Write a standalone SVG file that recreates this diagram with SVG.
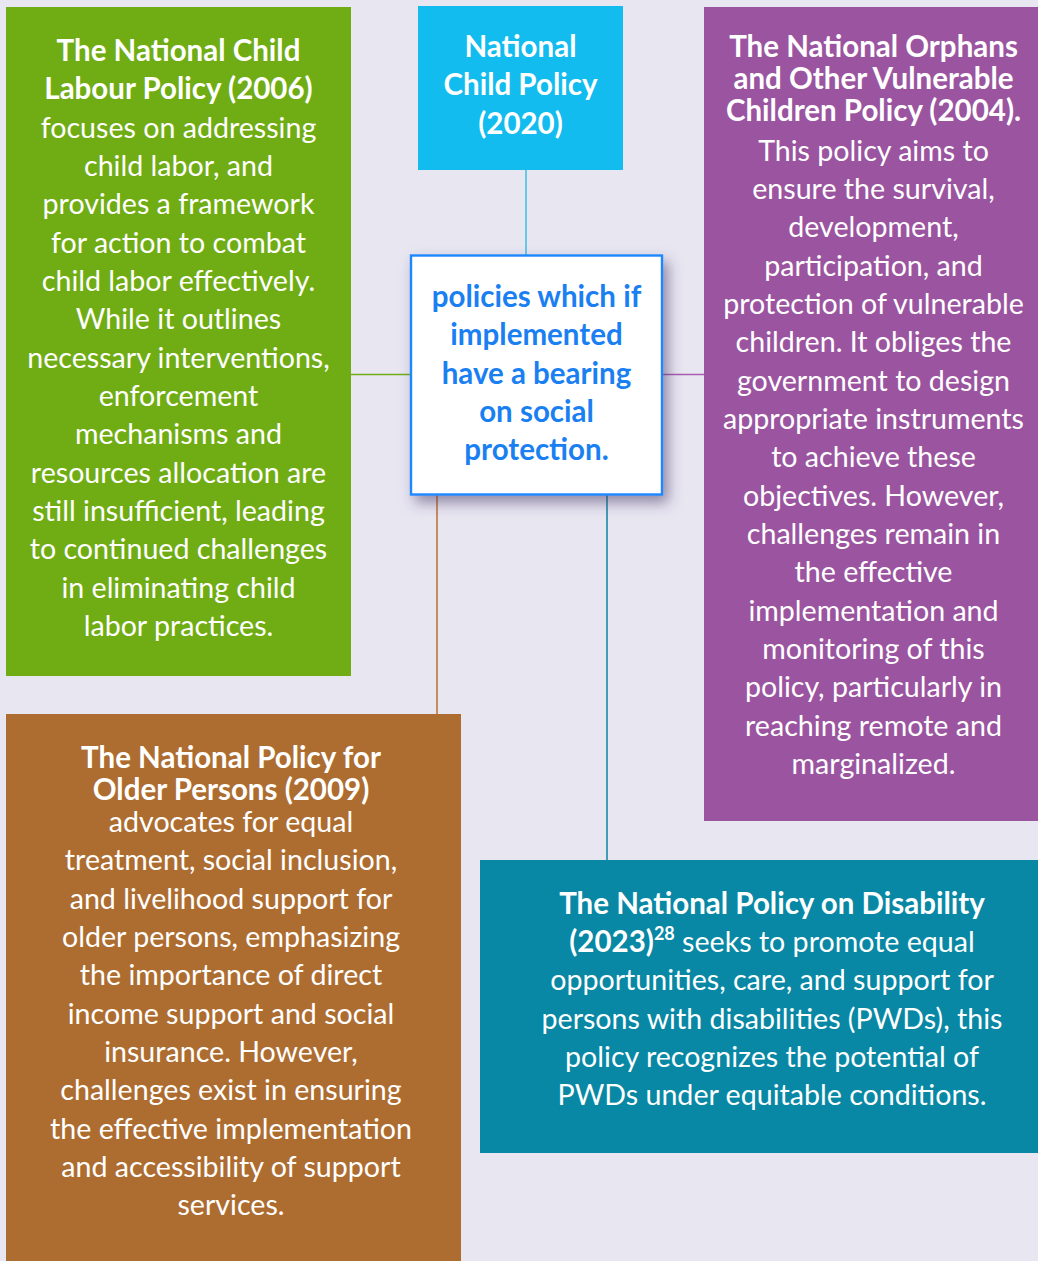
<svg xmlns="http://www.w3.org/2000/svg" width="1038" height="1261" viewBox="0 0 1038 1261">
<defs>
<filter id="shadow" x="-20%" y="-20%" width="150%" height="150%">
<feDropShadow dx="5" dy="7" stdDeviation="7" flood-color="#4a3a66" flood-opacity="0.55"/>
</filter>
<style>
text{font-family:Lato,"Open Sans","Liberation Sans",sans-serif;font-size:28.6px;fill:#ffffff;text-anchor:middle}
.b{font-weight:bold;font-size:29.5px}
.c{fill:#1a80f2;font-weight:bold;font-size:29.5px}
.conn line{stroke-width:1.6;fill:none}
</style>
</defs>
<rect x="0" y="0" width="1038" height="1261" fill="#e8e6f1"/>
<g id="connectors" class="conn">
<line x1="526" y1="170" x2="526" y2="255" stroke="#45c2e6"/>
<line x1="351" y1="374.5" x2="411" y2="374.5" stroke="#70ad14"/>
<line x1="662" y1="374.5" x2="704" y2="374.5" stroke="#a85cb0"/>
<line x1="437" y1="494" x2="437" y2="714" stroke="#bd7638"/>
<line x1="607" y1="494" x2="607" y2="860" stroke="#1a88a6"/>
</g>
<g id="node-child-labour">
<rect x="6" y="7" width="345" height="669" fill="#70ad14"/>
<text x="178.5" y="61" class="b">The National Child</text>
<text x="178.5" y="99.3" class="b">Labour Policy (2006)</text>
<text x="178.5" y="137.7">focuses on addressing</text>
<text x="178.5" y="176">child labor, and</text>
<text x="178.5" y="214.3">provides a framework</text>
<text x="178.5" y="252.7">for action to combat</text>
<text x="178.5" y="291">child labor effectively.</text>
<text x="178.5" y="329.3">While it outlines</text>
<text x="178.5" y="367.7">necessary interventions,</text>
<text x="178.5" y="406">enforcement</text>
<text x="178.5" y="444.3">mechanisms and</text>
<text x="178.5" y="482.7">resources allocation are</text>
<text x="178.5" y="521">still insufficient, leading</text>
<text x="178.5" y="559.3">to continued challenges</text>
<text x="178.5" y="597.7">in eliminating child</text>
<text x="178.5" y="636">labor practices.</text>
</g>
<g id="node-child-policy">
<rect x="418" y="6" width="205" height="164" fill="#12bcef"/>
<text x="520.5" y="57" class="b">National</text>
<text x="520.5" y="95.3" class="b">Child Policy</text>
<text x="520.5" y="133.7" class="b">(2020)</text>
</g>
<g id="node-orphans">
<rect x="704" y="7" width="334" height="814" fill="#9b55a0"/>
<text x="873.5" y="56.5" class="b">The National Orphans</text>
<text x="873.5" y="88.5" class="b">and Other Vulnerable</text>
<text x="873.5" y="120.5" class="b">Children Policy (2004).</text>
<text x="873.5" y="160.7">This policy aims to</text>
<text x="873.5" y="199">ensure the survival,</text>
<text x="873.5" y="237.3">development,</text>
<text x="873.5" y="275.7">participation, and</text>
<text x="873.5" y="314">protection of vulnerable</text>
<text x="873.5" y="352.3">children. It obliges the</text>
<text x="873.5" y="390.7">government to design</text>
<text x="873.5" y="429">appropriate instruments</text>
<text x="873.5" y="467.3">to achieve these</text>
<text x="873.5" y="505.7">objectives. However,</text>
<text x="873.5" y="544">challenges remain in</text>
<text x="873.5" y="582.3">the effective</text>
<text x="873.5" y="620.7">implementation and</text>
<text x="873.5" y="659">monitoring of this</text>
<text x="873.5" y="697.3">policy, particularly in</text>
<text x="873.5" y="735.7">reaching remote and</text>
<text x="873.5" y="774">marginalized.</text>
</g>
<g id="node-center">
<rect x="411" y="255.5" width="251" height="239" fill="#ffffff" stroke="#1e88ff" stroke-width="2.4" filter="url(#shadow)"/>
<text x="536.5" y="307" class="c">policies which if</text>
<text x="536.5" y="345.3" class="c">implemented</text>
<text x="536.5" y="383.7" class="c">have a bearing</text>
<text x="536.5" y="422" class="c">on social</text>
<text x="536.5" y="460.3" class="c">protection.</text>
</g>
<g id="node-older-persons">
<rect x="6" y="714" width="455" height="547" fill="#ae6d30"/>
<text x="231" y="768" class="b">The National Policy for</text>
<text x="231" y="800" class="b">Older Persons (2009)</text>
<text x="231" y="832">advocates for equal</text>
<text x="231" y="870.3">treatment, social inclusion,</text>
<text x="231" y="908.7">and livelihood support for</text>
<text x="231" y="947">older persons, emphasizing</text>
<text x="231" y="985.3">the importance of direct</text>
<text x="231" y="1023.7">income support and social</text>
<text x="231" y="1062">insurance. However,</text>
<text x="231" y="1100.3">challenges exist in ensuring</text>
<text x="231" y="1138.7">the effective implementation</text>
<text x="231" y="1177">and accessibility of support</text>
<text x="231" y="1215.3">services.</text>
</g>
<g id="node-disability">
<rect x="480" y="860" width="558" height="293" fill="#0888a4"/>
<text x="772" y="913.5" class="b">The National Policy on Disability</text>
<text x="772" y="952"><tspan class="b">(2023)</tspan><tspan font-weight="bold" font-size="18" dy="-12">28</tspan><tspan dy="12"> seeks to promote equal</tspan></text>
<text x="772" y="990.3">opportunities, care, and support for</text>
<text x="772" y="1028.7">persons with disabilities (PWDs), this</text>
<text x="772" y="1067">policy recognizes the potential of</text>
<text x="772" y="1105.3">PWDs under equitable conditions.</text>
</g>
</svg>
